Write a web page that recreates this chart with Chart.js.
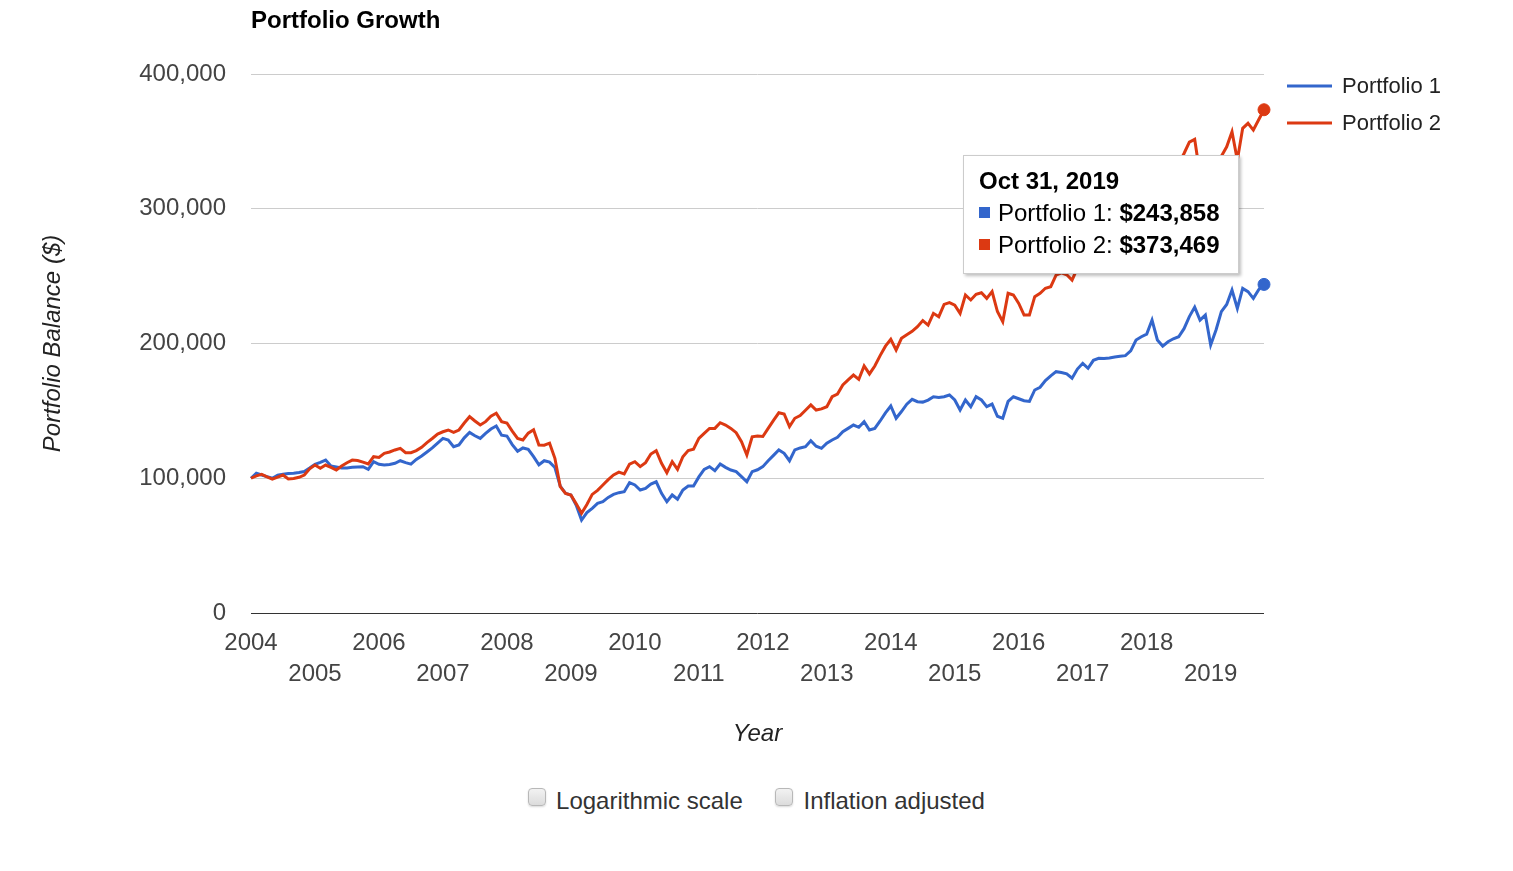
<!DOCTYPE html>
<html>
<head>
<meta charset="utf-8">
<title>Portfolio Growth</title>
<script src="https://cdn.jsdelivr.net/npm/chart.js@4.4.1/dist/chart.umd.min.js"></script>
<style>
  body { margin: 0; background: #fff; font-family: "Liberation Sans", Arial, sans-serif; }
  #wrap { position: relative; width: 1513px; height: 760px; }
  #tip {
    position: absolute; display: none; background: #fff; border: 1px solid #ccc;
    box-shadow: 2px 2px 3px rgba(0, 0, 0, .25); padding: 9px 18px 12px 15px;
    font-size: 24px; line-height: 32px; color: #000; white-space: nowrap;
  }
  #tip .sw { display: inline-block; width: 11px; height: 11px; margin-right: 8px; vertical-align: 3px; }
  .opts { margin-top: 26px; text-align: center; font-size: 24px; line-height: 30px; color: #333; }
  .opts label { display: inline-block; margin: 0 13px; }
  .opts input {
    -webkit-appearance: none; appearance: none; width: 18px; height: 18px; margin: 0 10px 0 0;
    border: 1px solid #b8b8b8; border-radius: 4px; background: linear-gradient(#f2f2f2, #dcdcdc);
    box-shadow: 0 1px 2px rgba(0, 0, 0, .15); vertical-align: 3px;
  }
</style>
</head>
<body>
<div id="wrap">
  <canvas id="growth"></canvas>
  <div id="tip"></div>
</div>
<div class="opts">
  <label><input type="checkbox">Logarithmic scale</label>
  <label><input type="checkbox">Inflation adjusted</label>
</div>
<script>
// year ticks on the x axis
const years = [2004, 2005, 2006, 2007, 2008, 2009, 2010, 2011, 2012, 2013, 2014, 2015, 2016, 2017, 2018, 2019];
const yTicks = [0, 100000, 200000, 300000, 400000];

// month end balances, starting value then Jan 2004 .. Oct 2019
const portfolio1 = [100000,
  103700, 102400, 101200, 100000, 102300, 102900, 103500, 103700, 104300, 105000, 107600, 110400,
  111800, 113500, 109100, 108400, 107600, 107600, 108100, 108400, 108600, 106600, 112300, 110400,
  109800, 110200, 111100, 113000, 111600, 110500, 114000, 116500, 119500, 122500, 126000, 129600,
  128400, 123400, 124700, 130000, 134000, 131500, 129600, 133300, 136500, 138800, 132000, 131300,
  125000, 120000, 122500, 121500, 116000, 110000, 113000, 112000, 108000, 94200, 88800, 87500,
  80000, 69000, 74500, 77700, 81400, 82600, 85800, 88000, 89300, 90000, 96700, 95000,
  91300, 92500, 95700, 97400, 88800, 82600, 87600, 84400, 91300, 94300, 94200, 101000,
  106600, 108600, 105600, 110600, 108100, 106100, 104900, 101200, 97400, 104900, 106300, 108600,
  113000, 117000, 121000, 118500, 113000, 121000, 122500, 123400, 127900, 123800, 122200, 126000,
  128400, 130400, 134600, 137000, 139500, 137800, 142000, 135800, 137000, 142500, 148500, 153600,
  144500, 149500, 155000, 158600, 156800, 156500, 158000, 160500, 160000, 160500, 161800, 158100,
  150600, 158100, 153100, 160500, 158100, 153100, 155000, 146000, 144500, 157000, 160500, 159000,
  157500, 157000, 165500, 167500, 172500, 176000, 179100, 178500, 177500, 174200, 181000, 185300,
  181600, 187500, 189000, 188800, 189200, 190000, 190500, 191000, 194500, 202600, 205000, 207000,
  217400, 202600, 198100, 201300, 203500, 205000, 211000, 220000, 227000, 217400, 221100, 198900,
  210000, 223600, 229000, 239700, 226100, 240900, 238500, 233500, 240000, 243858];

const portfolio2 = [100000,
  101800, 102900, 101000, 99400, 100800, 102400, 99400, 99800, 100700, 102400, 107000, 109800,
  107400, 109800, 108000, 106100, 109100, 111500, 113500, 113200, 112000, 110600, 116000, 115500,
  118500, 119500, 121000, 122200, 119000, 119000, 120500, 123000, 126500, 129500, 132800, 134500,
  135800, 134000, 135800, 141000, 145700, 142500, 139500, 142000, 146000, 148200, 142000, 141000,
  135000, 129600, 128400, 133500, 136000, 124700, 124500, 126000, 114800, 93800, 88800, 87500,
  81000, 74000, 80500, 88000, 91000, 95000, 99000, 102500, 104500, 103200, 110500, 112300,
  108600, 111600, 118000, 120500, 111100, 104100, 112300, 106600, 116000, 120500, 121500, 129600,
  133300, 137000, 137000, 141200, 139500, 137000, 133800, 127100, 117300, 130800, 131300, 131000,
  137000, 143000, 148600, 147700, 138300, 144500, 146500, 150500, 154400, 150600, 151500, 153100,
  160500, 162500, 169200, 173000, 176600, 173400, 183300, 177400, 183300, 191000, 198000, 203100,
  195200, 203800, 206500, 209000, 212500, 217000, 213700, 222400, 219900, 229000, 230300, 228500,
  222400, 236000, 232300, 236500, 237700, 233500, 238500, 223700, 216200, 237300, 236000, 229800,
  221100, 221100, 234800, 237300, 241000, 242200, 250800, 252500, 251000, 247000, 256000, 262000,
  258000, 268000, 273000, 276000, 279000, 284000, 286000, 290000, 297000, 309000, 314000, 319000,
  332000, 318000, 312000, 318000, 327000, 333000, 341000, 349500, 351500, 325000, 330000, 300000,
  318000, 339000, 346000, 357200, 336000, 359700, 363400, 358400, 366000, 373469];

const monthNames = ['Jan', 'Feb', 'Mar', 'Apr', 'May', 'Jun', 'Jul', 'Aug', 'Sep', 'Oct', 'Nov', 'Dec'];
const startYear = years[0];

function dateLabel(i) {
    if (i === 0) return 'Jan 1, ' + startYear;
    const y = startYear + Math.floor((i - 1) / 12);
    const m = (i - 1) % 12;
    const day = new Date(y, m + 1, 0).getDate();
    return monthNames[m] + ' ' + day + ', ' + y;
}

function toPoints(values) {
    return values.map((v, i) => ({x: startYear + i / 12, y: v}));
}

const FONT = '"Liberation Sans", Arial, sans-serif';
Chart.defaults.font.family = FONT;

// legend drawn as line samples to the right of the plot
const lineLegend = {
    id: 'lineLegend',
    afterDraw(chart) {
        const ctx = chart.ctx;
        const area = chart.chartArea;
        ctx.save();
        ctx.font = '22px ' + FONT;
        ctx.textBaseline = 'middle';
        chart.data.datasets.forEach((ds, i) => {
            const x = area.right + 23;
            const y = area.top + 12 + i * 37;
            ctx.strokeStyle = ds.borderColor;
            ctx.lineWidth = 3;
            ctx.beginPath();
            ctx.moveTo(x, y);
            ctx.lineTo(x + 45, y);
            ctx.stroke();
            ctx.fillStyle = '#222';
            ctx.fillText(ds.label, x + 55, y + 1);
        });
        ctx.restore();
    }
};

function externalTip(context) {
    const chart = context.chart;
    const tooltip = context.tooltip;
    const el = document.getElementById('tip');
    if (tooltip.opacity === 0 || !tooltip.dataPoints || !tooltip.dataPoints.length) {
        el.style.display = 'none';
        return;
    }
    const pts = tooltip.dataPoints;
    let html = '<div style="font-weight:bold">' + tooltip.title[0] + '</div>';
    pts.forEach(p => {
        html += '<div><span class="sw" style="background:' + p.dataset.borderColor + '"></span>' +
            p.dataset.label + ': <b>$' + Math.round(p.raw.y).toLocaleString('en-US') + '</b></div>';
    });
    el.innerHTML = html;
    el.style.display = 'block';
    el.style.left = (pts[0].element.x - 301) + 'px';
    el.style.top = (chart.chartArea.top + 81) + 'px';
}

const ctx = document.getElementById('growth').getContext('2d');
const growthChart = new Chart(ctx, {
    type: 'line',
    data: {
        datasets: [{
            label: 'Portfolio 1',
            data: toPoints(portfolio1),
            borderColor: '#3366cc',
            backgroundColor: '#3366cc',
            borderWidth: 3,
            pointRadius: 0,
            pointHoverRadius: 6,
            pointHoverBorderWidth: 1,
            pointHoverBackgroundColor: '#3366cc',
            pointHoverBorderColor: '#3366cc',
            tension: 0,
            clip: false,
            order: 1
        }, {
            label: 'Portfolio 2',
            data: toPoints(portfolio2),
            borderColor: '#dc3912',
            backgroundColor: '#dc3912',
            borderWidth: 3,
            pointRadius: 0,
            pointHoverRadius: 6,
            pointHoverBorderWidth: 1,
            pointHoverBackgroundColor: '#dc3912',
            pointHoverBorderColor: '#dc3912',
            tension: 0,
            clip: false,
            order: 0
        }]
    },
    options: {
        responsive: true,
        maintainAspectRatio: false,
        animation: false,
        events: [],
        layout: {
            padding: {left: 0, right: 249, top: 0, bottom: 0}
        },
        plugins: {
            legend: {display: false},
            title: {
                display: true,
                text: 'Portfolio Growth',
                align: 'start',
                fullSize: false,
                color: '#000',
                font: {size: 24, weight: 'bold'},
                padding: {top: 7, bottom: 38.2}
            },
            tooltip: {
                enabled: false,
                external: externalTip,
                callbacks: {
                    title: items => dateLabel(items[0].dataIndex)
                }
            }
        },
        scales: {
            x: {
                type: 'linear',
                min: startYear,
                max: startYear + (portfolio1.length - 1) / 12,
                afterFit: scale => { scale.height = 147; },
                afterBuildTicks: scale => { scale.ticks = years.map(v => ({value: v})); },
                grid: {display: false, drawTicks: false},
                border: {display: false},
                ticks: {
                    autoSkip: false,
                    maxRotation: 0,
                    padding: 15,
                    color: '#444',
                    font: {size: 24, lineHeight: 1.3},
                    callback: value => (value % 2 === 0 ? String(value) : ['', String(value)])
                },
                title: {
                    display: true,
                    text: 'Year',
                    color: '#222',
                    font: {size: 24, style: 'italic'},
                    padding: {top: 0, bottom: 11}
                }
            },
            y: {
                min: 0,
                max: 400000,
                afterFit: scale => { scale.width = 251; },
                afterBuildTicks: scale => { scale.ticks = yTicks.map(v => ({value: v})); },
                border: {display: false},
                grid: {
                    drawTicks: false,
                    lineWidth: 1,
                    color: c => (c.tick && c.tick.value === 0 ? '#333' : '#cccccc')
                },
                ticks: {
                    padding: 25,
                    color: '#444',
                    font: {size: 24},
                    callback: value => value.toLocaleString('en-US')
                },
                title: {
                    display: true,
                    text: 'Portfolio Balance ($)',
                    color: '#222',
                    font: {size: 24, style: 'italic'},
                    padding: {top: 39, bottom: 0}
                }
            }
        }
    },
    plugins: [lineLegend]
});

// show the last month as the active point, as in the saved view
const lastIndex = portfolio1.length - 1;
const activeEls = [{datasetIndex: 0, index: lastIndex}, {datasetIndex: 1, index: lastIndex}];
growthChart.setActiveElements(activeEls);
growthChart.tooltip.setActiveElements(activeEls, {x: 0, y: 0});
growthChart.update();
</script>
</body>
</html>
